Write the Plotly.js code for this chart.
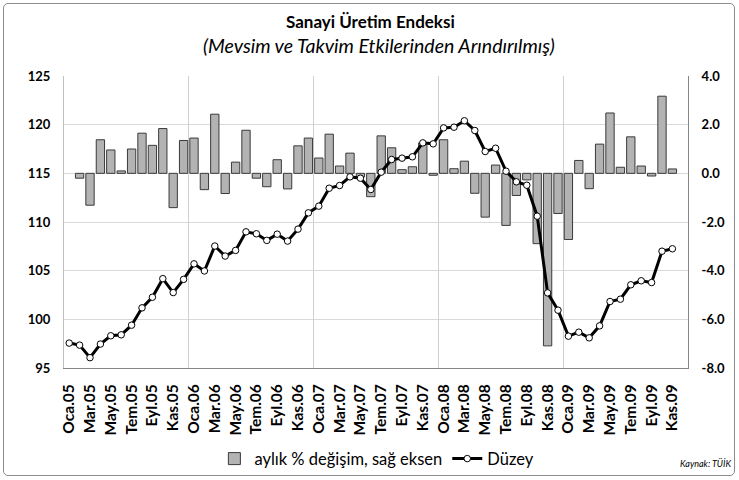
<!DOCTYPE html>
<html>
<head>
<meta charset="utf-8">
<script src="https://cdn.plot.ly/plotly-3.0.1.min.js"></script>
<style>
html,body{margin:0;padding:0;background:#fff;}
#wrap{position:relative;width:739px;height:480px;}
#frame{position:absolute;left:3px;top:3px;width:730px;height:471px;border:1px solid #8c8c8c;border-radius:5px;pointer-events:none;z-index:5;}
#chart{position:absolute;left:0;top:0;width:739px;height:480px;}
</style>
</head>
<body>
<div id="wrap"><div id="chart"></div><div id="frame"></div></div>
<script>
const monthNames = ["Oca","Şub","Mar","Nis","May","Haz","Tem","Ağu","Eyl","Eki","Kas","Ara"];
const years = ["05","06","07","08","09"];
const categories = [];
years.forEach(y => monthNames.forEach(m => categories.push(m + "." + y)));
categories.length = 59; // Oca.05 ... Kas.09

const levelValues = [97.56, 97.35, 96.06, 97.46, 98.31, 98.41, 99.40, 101.18, 102.27, 104.18, 102.75, 104.11,
  105.7, 104.97, 107.53, 106.5, 107.08, 108.99, 108.79, 108.11, 108.75, 108.04, 109.27, 110.94,
  111.63, 113.47, 113.75, 114.64, 114.5, 113.34, 115.12, 116.42, 116.56, 116.7, 118.13, 118.03,
  119.67, 119.74, 120.4, 119.4, 117.24, 117.58, 115.22, 114.13, 113.78, 110.6, 102.72, 100.94,
  98.27, 98.68, 98.1, 99.33, 101.83, 102.07, 103.55, 103.96, 103.78, 107.0, 107.25];

const changeValues = [null, -0.2, -1.31, 1.38, 0.96, 0.1, 1.0, 1.65, 1.15, 1.84, -1.41, 1.35,
  1.45, -0.67, 2.43, -0.83, 0.46, 1.77, -0.2, -0.55, 0.56, -0.64, 1.13, 1.45,
  0.63, 1.61, 0.3, 0.83, -0.15, -0.96, 1.54, 1.05, 0.15, 0.27, 1.25, -0.08,
  1.38, 0.19, 0.5, -0.82, -1.8, 0.34, -2.14, -0.91, -0.27, -2.89, -7.09, -1.65,
  -2.72, 0.53, -0.63, 1.2, 2.48, 0.25, 1.5, 0.3, -0.11, 3.17, 0.18];

const tickLabels = categories.filter((c, i) => i % 2 === 0);
const leftTicks = [95, 100, 105, 110, 115, 120, 125];
const rightTicks = [-8, -6, -4, -2, 0, 2, 4];

const FONT = "Lato, 'Open Sans', sans-serif";

const barTrace = {
  type: "bar", name: "aylık % değişim, sağ eksen",
  x: categories, y: changeValues, xaxis: "x", yaxis: "y",
  marker: {color: "#b3b3b3", line: {color: "#3a3a3a", width: 1}}
};
const lineTrace = {
  type: "scatter", mode: "lines+markers", name: "Düzey",
  x: categories, y: levelValues, xaxis: "x", yaxis: "y2",
  line: {color: "#000000", width: 3},
  marker: {symbol: "circle", size: 6.5, color: "#ffffff", line: {color: "#000000", width: 1}}
};
const gridTrace = {
  type: "scatter", mode: "markers", x: [null], y: [null], xaxis: "x2", yaxis: "y",
  showlegend: false, hoverinfo: "skip"
};

const layout = {
  width: 739, height: 480,
  margin: {l: 64, r: 51, t: 76, b: 112, autoexpand: false},
  paper_bgcolor: "#ffffff", plot_bgcolor: "#ffffff",
  font: {family: FONT, color: "#000"},
  bargap: 0.2,
  showlegend: true,
  legend: {orientation: "h", xref: "container", yref: "container", x: 0.51, xanchor: "center",
    y: 0.044, yanchor: "middle",
    font: {family: FONT, size: 16.5, color: "#000"}, traceorder: "normal", itemwidth: 30},
  xaxis: {
    type: "category", range: [-0.5, 59.5], showgrid: false,
    tickmode: "array", tickvals: tickLabels, ticktext: tickLabels,
    tickangle: -90, tickfont: {family: FONT, size: 15.5, color: "#000", weight: "bold"},
    showline: true, linecolor: "#868686", linewidth: 1, ticks: "", ticklabelstandoff: 9,
    zeroline: false, automargin: false
  },
  xaxis2: {
    overlaying: "x", anchor: "y", type: "linear", range: [-0.5, 59.5],
    tick0: -0.5, dtick: 12, showgrid: true, gridcolor: "#cfcfcf", gridwidth: 1,
    showticklabels: false, ticks: "", showline: false, zeroline: false
  },
  yaxis: {
    side: "right", range: [-8, 4], tickmode: "array", tickvals: rightTicks,
    ticktext: rightTicks.map(v => v.toFixed(1)),
    showgrid: true, gridcolor: "#d9d9d9", zeroline: false,
    showline: true, linecolor: "#868686", linewidth: 1, ticks: "",
    tickfont: {family: FONT, size: 13, color: "#000", weight: "bold"}, ticklabelstandoff: 10,
    automargin: false
  },
  yaxis2: {
    overlaying: "y", side: "left", range: [95, 125], tickmode: "array", tickvals: leftTicks,
    showgrid: false, zeroline: false,
    showline: true, linecolor: "#bfbfbf", linewidth: 1, ticks: "",
    tickfont: {family: FONT, size: 13, color: "#000", weight: "bold"}, ticklabelstandoff: 10,
    automargin: false
  },
  annotations: [
    {text: "Sanayi Üretim Endeksi", xref: "paper", yref: "paper", x: 0.4917, y: 1.188,
      xanchor: "center", yanchor: "middle", showarrow: false,
      font: {family: FONT, size: 17, color: "#000", weight: "bold"}},
    {text: "(Mevsim ve Takvim Etkilerinden Arındırılmış)", xref: "paper", yref: "paper", x: 0.505, y: 1.103,
      xanchor: "center", yanchor: "middle", showarrow: false,
      font: {family: FONT, size: 19.5, color: "#000", style: "italic"}},
    {text: "Kaynak: TÜİK", xref: "paper", yref: "paper", x: 1.072, y: -0.325,
      xanchor: "right", yanchor: "middle", showarrow: false,
      font: {family: FONT, size: 9, color: "#000", style: "italic"}}
  ]
};

Plotly.newPlot("chart", [barTrace, gridTrace, lineTrace], layout, {displayModeBar: false, staticPlot: true});
</script>
</body>
</html>
